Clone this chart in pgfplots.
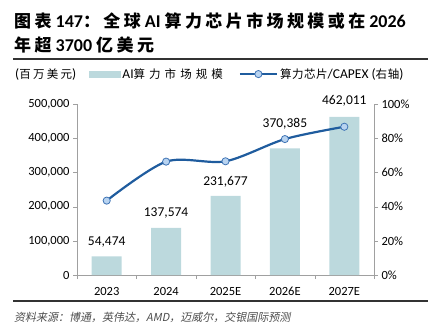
\documentclass[border=0pt]{standalone}
\usepackage{fontspec}
\setmainfont{Carlito}
\newfontfamily\cjk{Noto Sans CJK SC}
\newfontfamily\cjkT[LetterSpace=20]{Noto Sans CJK SC}
\newfontfamily\cjkA[LetterSpace=35]{Noto Sans CJK SC}
\newfontfamily\cjkB[LetterSpace=5]{Noto Sans CJK SC}
\newfontfamily\cjkC[LetterSpace=20]{Noto Sans CJK SC}
\newfontfamily\cjkit[FakeSlant=0.2]{Noto Sans CJK SC}
\usepackage{pgfplots}
\pgfplotsset{compat=1.18}
\pgfplotsset{lineleg/.style={legend image code/.code={\draw[mark repeat=2,mark phase=2,##1] plot coordinates {(0pt,0pt) (18.5pt,0pt) (37pt,0pt)};}}}
\definecolor{barc}{HTML}{BCD9DD}
\definecolor{linec}{HTML}{1F5C9E}
\definecolor{markc}{HTML}{B8D3F0}
\definecolor{marke}{HTML}{3F74B5}
\definecolor{axc}{HTML}{A0A0A0}
\newcommand{\tc}[1]{{\fontsize{17}{18}\selectfont\cjkT #1}}
\newcommand{\lc}[1]{{\fontsize{11.5}{13}\selectfont #1}}
\begin{document}
\begin{tikzpicture}
\path (0pt,0pt) rectangle (438pt,-335pt);
% title
\node[anchor=base west,inner sep=0] at (14pt,-27pt) {\fontsize{18}{20}\selectfont\bfseries\tc{图表} 147\tc{：全球} AI \tc{算力芯片市场规模或在} 2026};
\node[anchor=base west,inner sep=0] at (14pt,-51pt) {\fontsize{18}{20}\selectfont\bfseries\tc{年超} 3700 \tc{亿美元}};
\draw[line width=1.3pt, color=black!80] (13pt,-59pt) -- (428pt,-59pt);
\draw[line width=1.3pt, color=black!80] (13pt,-301pt) -- (428pt,-301pt);
\node[anchor=base west,inner sep=0,text=black!70] at (14pt,-321pt) {\fontsize{11}{12}\selectfont\cjkit 资料来源：博通，英伟达，AMD，迈威尔，交银国际预测};
\node[anchor=west,inner sep=0] at (15pt,-74pt) {\fontsize{13.5}{15}\selectfont(\lc{\cjkC 百万美元})};
\pgfplotstableread{
x y sh
0 54474 11
1 137574 11
2 231677 10
3 370385 21
4 462011 12
}\bars
\begin{axis}[
  at={(77pt,-275pt)}, anchor=south west, scale only axis,
  width=297pt, height=171pt,
  xmin=-0.5, xmax=4.5, ymin=0, ymax=500000,
  axis x line*=bottom, axis y line*=left,
  axis line style={-, draw=axc},
  xtick={0,...,4}, xticklabels={2023,2024,2025E,2026E,2027E},
  major x tick style={draw=none},
  minor xtick={-0.5,0.5,...,4.5},
  minor x tick style={draw=axc},
  y tick style={draw=axc},
  tick align=outside, major tick length=4pt, minor tick length=4pt,
  ytick={0,100000,...,500000},
  scaled y ticks=false,
  yticklabel style={/pgf/number format/.cd, fixed, 1000 sep={,}},
  /pgf/number format/assume math mode=true,
  ticklabel style={font=\fontsize{12.5}{14}\selectfont, text=black},
  xticklabel style={yshift=-5pt},
  clip=false,
]
\addplot[ybar, bar width=30pt, bar shift=0pt, fill=barc, draw=none,
  visualization depends on={\thisrow{sh} \as \sh},
  nodes near coords,
  nodes near coords style={font=\fontsize{13.5}{15}\selectfont, anchor=base, yshift=\sh pt, text=black,
    /pgf/number format/.cd, fixed, 1000 sep={,}, assume math mode=true}]
  table[x=x, y=y] {\bars};
\end{axis}
\begin{axis}[
  at={(77pt,-275pt)}, anchor=south west, scale only axis,
  width=297pt, height=171pt,
  xmin=-0.5, xmax=4.5, ymin=0, ymax=100,
  axis x line=none, axis y line*=right,
  axis line style={-, draw=axc},
  y tick style={draw=axc},
  tick align=outside, major tick length=4pt,
  ytick={0,20,...,100},
  yticklabel={\pgfmathprintnumber{\tick}\%},
  /pgf/number format/assume math mode=true,
  ticklabel style={font=\fontsize{12.5}{14}\selectfont, text=black},
  clip=false,
  legend columns=2,
  legend style={at={(0.04,1.175)}, anchor=west, draw=none, fill=none,
    font=\fontsize{13.5}{15}\selectfont, inner sep=0pt,
    /tikz/every even column/.append style={column sep=14pt}},
]
\addlegendimage{legend image code/.code={\fill[barc] (0pt,-3pt) rectangle (31pt,3pt);}}
\addlegendentry{AI\lc{\cjkA 算力市场规模}}
\addplot[smooth, color=linec, line width=2.2pt, mark=*, mark size=3.6pt,
  mark options={fill=markc, draw=marke, line width=0.8pt}, lineleg]
  coordinates {(0,43.5) (1,66.3) (2,66.5) (3,79.5) (4,86.7)};
\addlegendentry{\lc{\cjkB 算力芯片}/CAPEX (\lc{\cjkB 右轴})}
\end{axis}
\end{tikzpicture}
\end{document}
